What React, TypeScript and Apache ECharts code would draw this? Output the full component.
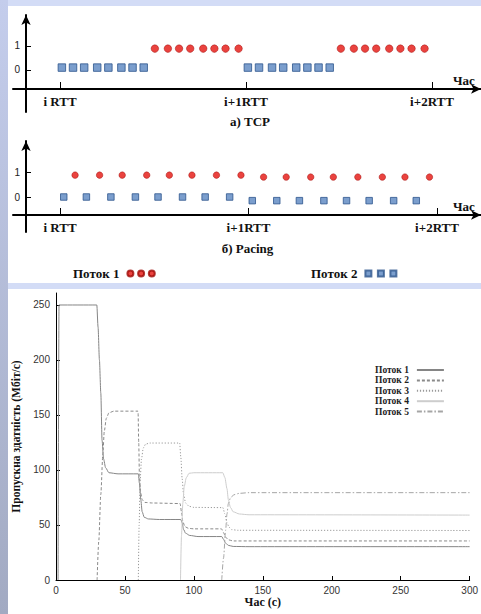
import React, { useEffect, useRef } from 'react';
import * as echarts from 'echarts';

// ---- top diagrams (x in RTT units, y = level) ----
const rttTicks = [0, 1, 2];
const rttLabels = ['i RTT', 'i+1RTT', 'i+2RTT'];
const levelTicks = [0, 1];

const tcpFlow1 = [
  [0.51, 0.89], [0.58, 0.89], [0.64, 0.89], [0.70, 0.89], [0.77, 0.89], [0.83, 0.89], [0.89, 0.89], [0.96, 0.89],
  [1.51, 0.89], [1.58, 0.89], [1.64, 0.89], [1.70, 0.89], [1.77, 0.89], [1.83, 0.89], [1.89, 0.89], [1.96, 0.89],
];
const tcpFlow2 = [
  [0.01, 0.1], [0.07, 0.1], [0.13, 0.1], [0.20, 0.1], [0.26, 0.1], [0.33, 0.1], [0.39, 0.1], [0.45, 0.1],
  [1.01, 0.1], [1.07, 0.1], [1.14, 0.1], [1.20, 0.1], [1.27, 0.1], [1.33, 0.1], [1.39, 0.1], [1.45, 0.1],
];
const pacingFlow1 = [
  [0.08, 0.9], [0.21, 0.9], [0.33, 0.9], [0.46, 0.9], [0.58, 0.9], [0.70, 0.9], [0.83, 0.9], [0.96, 0.9],
  [1.08, 0.82], [1.20, 0.82], [1.33, 0.82], [1.45, 0.82], [1.58, 0.82], [1.71, 0.82], [1.83, 0.82], [1.96, 0.82],
];
const pacingFlow2 = [
  [0.02, 0], [0.14, 0], [0.27, 0], [0.40, 0], [0.52, 0], [0.65, 0], [0.77, 0], [0.90, 0],
  [1.02, -0.15], [1.15, -0.15], [1.27, -0.15], [1.40, -0.15], [1.52, -0.15], [1.64, -0.15], [1.77, -0.15], [1.89, -0.15],
];

// ---- throughput chart (t in s, Mbit/s) ----
const flowNames = ['Поток 1', 'Поток 2', 'Поток 3', 'Поток 4', 'Поток 5'];
const yTicks = [0, 50, 100, 150, 200, 250];
const flow1 = [
  [1.5, 0], [2.2, 250], [29.6, 250], [30.5, 230], [31.5, 200], [32.5, 170], [33.4, 127], [34.5, 110], [36, 102],
  [38.4, 97.5], [45, 96.5], [59.7, 96.5], [60.5, 88], [61.5, 73], [62.5, 62], [64, 57], [67, 55.5], [75, 55],
  [90.5, 55], [91.5, 52], [92.5, 46], [94, 42.5], [97, 40.5], [103, 39.5], [120.2, 39.5], [121.5, 37], [123, 33.5],
  [125, 31.5], [128.5, 30.5], [140, 30.3], [300, 30.3],
];
const flow2 = [
  [29.8, 0], [31, 35], [32.5, 78], [34, 115], [35, 135], [36.5, 147], [38.4, 152], [42, 153.5], [59.5, 153.5],
  [60, 125], [60.5, 95], [61.3, 80], [62.5, 73], [64.5, 70.5], [70, 70], [90, 69.5], [91, 62], [92, 53], [93.5, 48.5],
  [96, 47], [100, 46.5], [120, 46.5], [121.5, 43], [123, 39], [125, 36.5], [128.5, 35.5], [300, 35.5],
];
const flow3 = [
  [59.7, 0], [60.3, 50], [61, 90], [62, 110], [63.3, 120], [65, 123.5], [68, 124.5], [89.7, 124.5], [90.5, 112],
  [91.5, 92], [92.5, 78], [94, 70], [96.5, 67], [100, 66], [121, 65.8], [122.5, 60], [124, 52], [125.5, 48],
  [127.3, 45.8], [132, 45.2], [300, 45],
];
const flow4 = [
  [90.3, 0], [91, 40], [92, 70], [93, 85], [94.5, 93], [96.5, 97], [100, 97.5], [121, 97.5], [122.5, 93], [124, 83],
  [125, 73], [126.5, 66], [128.5, 62], [133, 60], [140, 59.3], [300, 59],
];
const flow5 = [
  [120.2, 0], [121.5, 20], [123, 45], [124, 60], [125, 69.5], [126.5, 74.5], [129, 77.5], [133, 78.8], [140, 79.4],
  [300, 79.4],
];

const SERIF = '"Liberation Serif", "Times New Roman", serif';
const SANS = '"Liberation Sans", Arial, sans-serif';

const legendText: Record<string, string> = { 'tcp-1': 'Поток 1', 'tcp-2': 'Поток 2' };

function diagramAxes(grid: number, min: number, max: number, xOffset: number) {
  return {
    gridIndex: grid, type: 'value', min, max, offset: xOffset,
    axisLine: { show: true, onZero: false, symbol: ['none', 'arrow'], symbolSize: [7, 10], lineStyle: { color: '#000', width: 2 } },
    axisTick: { show: true, customValues: rttTicks, inside: true, length: 7, lineStyle: { color: '#000', width: 1 } },
    axisLabel: {
      customValues: rttTicks, margin: 6, formatter: (v: number) => rttLabels[Math.round(v)] ?? '',
      fontFamily: SERIF, fontWeight: 'bold', fontSize: 13, color: '#111',
    },
    splitLine: { show: false },
    name: 'Час', nameLocation: 'end', nameGap: -28,
    nameTextStyle: { fontFamily: SERIF, fontWeight: 'bold', fontSize: 13, color: '#111', verticalAlign: 'bottom', padding: [0, 0, 2, 0] },
  };
}
function diagramYAxis(grid: number, min: number, max: number) {
  return {
    gridIndex: grid, type: 'value', min, max, offset: -13,
    axisLine: { show: true, onZero: false, symbol: ['none', 'arrow'], symbolSize: [7, 10], lineStyle: { color: '#000', width: 2 } },
    axisTick: { show: true, customValues: levelTicks, inside: true, length: 5, lineStyle: { color: '#000', width: 1 } },
    axisLabel: { customValues: levelTicks, margin: 6, fontFamily: SANS, fontSize: 10, color: '#222' },
    splitLine: { show: false },
  };
}

const circleStyle = { color: '#e5140f', borderColor: '#9e0b08', borderWidth: 0.6 };
const squareStyle = { color: '#5a86c0', borderColor: '#2d558c', borderWidth: 1 };

const threeCircles = 'path://M0,3a3,3 0 1,0 6,0a3,3 0 1,0 -6,0Z M10.7,3a3,3 0 1,0 6,0a3,3 0 1,0 -6,0Z M21.4,3a3,3 0 1,0 6,0a3,3 0 1,0 -6,0Z';
const threeSquares = 'path://M0,0h6v6h-6Z M12.5,0h6v6h-6Z M25,0h6v6h-6Z';

const lineStyles = [
  { color: '#858585', width: 1, type: 'solid' },
  { color: '#8a8a8a', width: 1, type: [3, 2] },
  { color: '#9a9a9a', width: 1, type: [1.2, 1.8] },
  { color: '#cdcdcd', width: 1, type: 'solid' },
  { color: '#a5a5a5', width: 1, type: [5, 2, 1.5, 2] },
];
const flows = [flow1, flow2, flow3, flow4, flow5];

const option: any = {
  animation: false,
  graphic: [
    { type: 'rect', z: -20, shape: { x: 0, y: 0, width: 481, height: 614 }, style: { fill: '#d3dcf6' } },
    {
      type: 'rect', z: -19, shape: { x: 0, y: 0, width: 8, height: 614 },
      style: { fill: { type: 'linear', x: 0, y: 0, x2: 0, y2: 1, colorStops: [{ offset: 0, color: '#c4cdec' }, { offset: 1, color: '#a2aac2' }] } },
    },
    { type: 'rect', z: -18, shape: { x: 8, y: 6, width: 473, height: 277 }, style: { fill: '#ffffff' } },
    { type: 'rect', z: -18, shape: { x: 8, y: 289, width: 473, height: 325 }, style: { fill: '#ffffff' } },
    { type: 'text', z: 10, x: 250, y: 121, style: { text: 'а) TCP', font: `bold 13px ${SERIF}`, fill: '#111', textAlign: 'center', textVerticalAlign: 'middle' } },
    { type: 'text', z: 10, x: 247.5, y: 248, style: { text: 'б) Pacing', font: `bold 13px ${SERIF}`, fill: '#111', textAlign: 'center', textVerticalAlign: 'middle' } },
  ],
  grid: [
    { left: 13, top: 15, width: 468, height: 97 },
    { left: 13, top: 141, width: 468, height: 91 },
    { left: 56, top: 293, width: 421.8, height: 287 },
  ],
  xAxis: [
    diagramAxes(0, -0.2527, 2.2634, -23),
    diagramAxes(1, -0.2493, 2.2334, -17),
    {
      gridIndex: 2, type: 'value', min: 0, max: 300, interval: 50,
      axisLine: { show: true, onZero: false, lineStyle: { color: '#000', width: 1 } },
      axisTick: { show: true, inside: true, length: 4, lineStyle: { color: '#000', width: 1 } },
      axisLabel: { margin: 5, fontFamily: SANS, fontSize: 10, color: '#333', hideOverlap: false },
      splitLine: { show: false },
      name: 'Час (с)', nameLocation: 'middle', nameGap: 15,
      nameTextStyle: { fontFamily: SERIF, fontWeight: 'bold', fontSize: 12, color: '#111' },
    },
  ],
  yAxis: [
    diagramYAxis(0, -1.75, 2.29),
    diagramYAxis(1, -1.44, 2.3045),
    {
      gridIndex: 2, type: 'value', min: 0, max: 260.9,
      axisLine: { show: true, onZero: false, lineStyle: { color: '#000', width: 1 } },
      axisTick: { show: true, customValues: yTicks, inside: true, length: 4, lineStyle: { color: '#000', width: 1 } },
      axisLabel: { customValues: yTicks, margin: 6, fontFamily: SANS, fontSize: 10, color: '#333' },
      splitLine: { show: false },
      name: 'Пропускна здатність (Мбіт/с)', nameLocation: 'middle', nameGap: 34,
      nameTextStyle: { fontFamily: SERIF, fontWeight: 'bold', fontSize: 11.5, color: '#111' },
    },
  ],
  legend: [
    {
      data: [{ name: 'tcp-1', icon: threeCircles }], left: 73, top: 267, align: 'right', padding: 0,
      itemWidth: 27.4, itemHeight: 6, selectedMode: false,
      formatter: (n: string) => legendText[n] ?? n,
      textStyle: { fontFamily: SERIF, fontWeight: 'bold', fontSize: 13, color: '#111', padding: [0, 3, 0, 0] },
    },
    {
      data: [{ name: 'tcp-2', icon: threeSquares }], left: 311, top: 267, align: 'right', padding: 0,
      itemWidth: 31, itemHeight: 6, selectedMode: false,
      formatter: (n: string) => legendText[n] ?? n,
      textStyle: { fontFamily: SERIF, fontWeight: 'bold', fontSize: 13, color: '#111', padding: [0, 3, 0, 0] },
    },
    {
      data: flowNames, left: 375, top: 365, orient: 'vertical', align: 'right', padding: 0,
      itemWidth: 27, itemHeight: 7, itemGap: 0.4, selectedMode: false,
      itemStyle: { color: 'rgba(0,0,0,0)', borderColor: 'rgba(0,0,0,0)', borderWidth: 0 },
      textStyle: { fontFamily: SERIF, fontWeight: 'bold', fontSize: 9.5, lineHeight: 10, color: '#222', padding: [0, 3, 0, 0] },
    },
  ],
  series: [
    { name: 'tcp-1', type: 'scatter', xAxisIndex: 0, yAxisIndex: 0, symbol: 'circle', symbolSize: 7.5, itemStyle: circleStyle, data: tcpFlow1 },
    { name: 'tcp-2', type: 'scatter', xAxisIndex: 0, yAxisIndex: 0, symbol: 'rect', symbolSize: 7.5, itemStyle: squareStyle, data: tcpFlow2 },
    { name: 'pacing-1', type: 'scatter', xAxisIndex: 1, yAxisIndex: 1, symbol: 'circle', symbolSize: 6.5, itemStyle: circleStyle, data: pacingFlow1 },
    { name: 'pacing-2', type: 'scatter', xAxisIndex: 1, yAxisIndex: 1, symbol: 'rect', symbolSize: 6.5, itemStyle: squareStyle, data: pacingFlow2 },
    ...flows.map((d, i) => ({
      name: flowNames[i], type: 'line', xAxisIndex: 2, yAxisIndex: 2, symbol: 'none', showSymbol: false,
      smooth: 0.25, smoothMonotone: 'x', lineStyle: lineStyles[i], itemStyle: { color: lineStyles[i].color }, data: d,
    })),
  ],
};

export default function App() {
  const ref = useRef<HTMLDivElement>(null);
  useEffect(() => {
    if (!ref.current) return;
    const chart = echarts.init(ref.current, null, { renderer: 'svg' });
    chart.setOption(option);
    return () => chart.dispose();
  }, []);
  return <div ref={ref} style={{ position: 'absolute', left: 0, top: 0, width: 481, height: 614 }} />;
}
